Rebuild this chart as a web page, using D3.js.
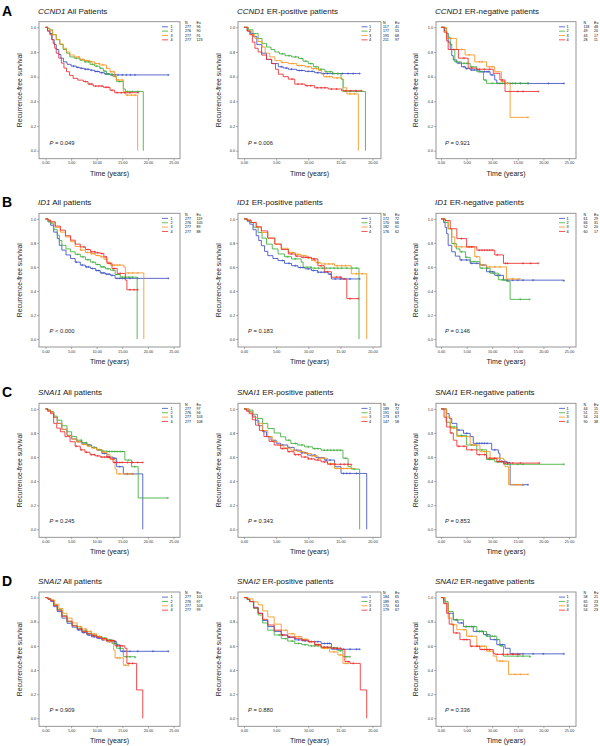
<!DOCTYPE html>
<html>
<head>
<meta charset="utf-8">
<script src="https://cdn.jsdelivr.net/npm/d3@7"></script>
<style>
  body { margin: 0; background: #fff; }
  svg { font-family: "Liberation Sans", Arial, sans-serif; }
</style>
</head>
<body>
<div class="d3Chart"></div>
<script>
// curves are KM steps: [time, survival from that time on]; order blue, green, orange, red
const ccnd1All = [
  [[0,1],[0.4,0.97],[0.85,0.95],[1.3,0.9],[1.7,0.86],[2.1,0.82],[2.6,0.78],[3,0.75],[3.5,0.72],[4.2,0.7],[5,0.685],[6,0.675],[6.7,0.668],[7.6,0.66],[8.7,0.652],[9.6,0.642],[10.6,0.632],[11.5,0.622],[12.6,0.614],[24,0.614]],
  [[0,1],[0.5,0.99],[0.85,0.98],[1.4,0.94],[2.1,0.9],[2.8,0.86],[3.45,0.82],[4.1,0.79],[4.75,0.76],[5.6,0.75],[6.7,0.735],[7.6,0.72],[8.7,0.7],[9.6,0.685],[10.6,0.668],[11.3,0.645],[11.9,0.62],[13.2,0.6],[13.9,0.56],[15.2,0.5],[15.6,0.48],[19.1,0]],
  [[0,1],[0.5,0.99],[0.85,0.973],[1.4,0.94],[2.1,0.9],[2.8,0.865],[3.45,0.83],[4.1,0.8],[4.75,0.776],[5.6,0.76],[6.7,0.74],[7.6,0.73],[8.7,0.72],[9.6,0.706],[10.6,0.695],[11.9,0.668],[12.6,0.64],[13.5,0.6],[13.8,0.573],[15.2,0.478],[15.7,0.45],[18,0]],
  [[0,1],[0.4,0.97],[0.85,0.94],[1.2,0.9],[1.5,0.87],[1.8,0.83],[2.1,0.79],[2.6,0.75],[3.1,0.71],[3.6,0.67],[4.1,0.64],[4.7,0.61],[5.4,0.586],[6.3,0.572],[7.4,0.56],[8.3,0.54],[9.3,0.524],[11.3,0.514],[12.6,0.49],[13.5,0.47],[18.1,0.47]]
]
const ccnd1AllCens = [
  [5.5,6.3,7,7.8,8.3,9,9.8,10.2,11,11.8,12.2,13,13.6,14.2,15,15.8,16.6,17.5,24],
  [6,7,7.8,8.4,9.2,10,10.8,11.6,12.4,13,14.5,16,17,18],
  [6.5,7.3,8,9,9.8,10.5,11.2,12,12.8,13.3,14.2,15,16,16.8,17.5],
  [7.8,8.6,9,9.8,10.4,11,11.8,12.2,13,14,14.8,15.5,16.5,18.1]
]
const ccnd1Pos = [
  [[0,1],[0.5,0.97],[1,0.95],[1.45,0.925],[2,0.86],[2.75,0.79],[3.5,0.74],[4.3,0.706],[5.35,0.68],[6.1,0.67],[6.9,0.66],[8.2,0.65],[9.5,0.643],[11,0.632],[12,0.625],[18,0.625]],
  [[0,1],[0.7,0.98],[1.4,0.95],[2.2,0.91],[2.8,0.87],[3.5,0.84],[4.2,0.82],[4.8,0.8],[5.5,0.785],[6.4,0.77],[7.4,0.76],[8.5,0.747],[9.2,0.725],[10,0.706],[10.8,0.68],[11.6,0.66],[12.6,0.64],[13.8,0.625],[15.1,0.58],[15.4,0.48],[18.9,0]],
  [[0,1],[0.6,0.97],[1.2,0.94],[1.7,0.91],[2.2,0.885],[2.8,0.84],[3.3,0.79],[4,0.76],[4.8,0.73],[5.8,0.715],[6.9,0.706],[8.2,0.69],[9.5,0.68],[10.5,0.665],[11.6,0.65],[12.1,0.62],[12.4,0.6],[13.8,0.59],[15.2,0.58],[15.5,0.51],[16,0.46],[17.8,0]],
  [[0,1],[0.5,0.97],[0.9,0.94],[1.3,0.88],[1.7,0.83],[2.2,0.8],[2.75,0.775],[3.5,0.74],[4.3,0.706],[4.9,0.66],[5.35,0.62],[6.1,0.6],[6.9,0.58],[7.9,0.54],[9.5,0.527],[11,0.51],[13.1,0.5],[15.2,0.486],[18.3,0.486]]
]
const ccnd1PosCens = [
  [5.8,6.6,7.4,8.6,9,10,10.6,11.5,12.4,13,13.8,14.6,15.3,16.2,17,18],
  [6,7,8,9,9.6,10.4,11.2,12,12.8,13.4,14,14.6,16.5,17.5],
  [6,7.5,8.6,9,10,10.8,11.3,12.8,13.3,14.5,16.5,17.2],
  [7.5,8.4,9,9.8,10.4,11.4,12,12.6,13.6,14.4,15.8,16.6,17.4,18.3]
]
const ccnd1Neg = [
  [[0,1],[0.7,0.97],[1.1,0.95],[1.4,0.88],[1.8,0.82],[2.1,0.77],[2.4,0.735],[3.1,0.71],[4,0.68],[4.8,0.665],[5.7,0.654],[7.6,0.64],[9.6,0.614],[10.5,0.573],[10.9,0.545],[24,0.545]],
  [[0,1],[0.8,0.99],[1.1,0.95],[1.4,0.92],[1.8,0.86],[2.1,0.82],[2.7,0.72],[4,0.708],[5.7,0.68],[7,0.64],[8.3,0.573],[8.9,0.546],[17,0.546]],
  [[0,1],[1.1,0.91],[3,0.82],[4.7,0.776],[6.6,0.72],[8.9,0.68],[10.5,0.64],[11.8,0.56],[12.5,0.546],[13.5,0.27],[17,0.27]],
  [[0,1],[0.6,0.96],[1.1,0.89],[1.4,0.82],[3.4,0.75],[5.3,0.67],[7,0.66],[10.2,0.627],[11.5,0.573],[12.5,0.48],[19,0.48]]
]
const ccnd1NegCens = [
  [3.5,4.5,5,6,6.5,7,8,8.5,9,9.3,10,11.5,12.5,13.5,14.5,15.5,17,21,24],
  [2,3,4.5,5,6,7.5,8.6,10,11,12,13,14,15.5,17],
  [2,4,5.5,7.5,8,9.5,10,12,13,17],
  [2.5,4.5,6,7.5,8.5,9.5,12,15,16,19]
]
const id1All = [
  [[0,1],[0.5,0.975],[1,0.947],[1.6,0.89],[2.3,0.836],[2.7,0.78],[3.2,0.74],[4,0.7],[4.9,0.67],[5.8,0.64],[6.8,0.615],[7.8,0.6],[8.8,0.587],[9.8,0.57],[10.7,0.55],[11.7,0.54],[12.7,0.53],[13.6,0.505],[24,0.505]],
  [[0,1],[0.5,0.98],[1,0.96],[1.6,0.91],[2.3,0.864],[2.7,0.82],[3.2,0.78],[4,0.75],[4.9,0.726],[5.8,0.705],[6.8,0.684],[7.8,0.66],[8.8,0.64],[9.8,0.62],[10.7,0.6],[11.7,0.585],[12.7,0.573],[13.6,0.537],[14.6,0.515],[17.9,0]],
  [[0,1],[0.5,0.99],[1,0.975],[1.9,0.93],[2.9,0.89],[3.9,0.85],[4.9,0.81],[5.8,0.77],[6.8,0.74],[7.8,0.72],[8.8,0.71],[9.8,0.695],[10.7,0.684],[11.4,0.665],[12,0.64],[12.7,0.615],[15.3,0.6],[15.6,0.55],[19.2,0]],
  [[0,1],[0.5,0.99],[1,0.975],[1.9,0.94],[2.9,0.906],[3.9,0.86],[4.9,0.823],[5.8,0.79],[6.8,0.767],[7.8,0.745],[8.8,0.726],[9.8,0.718],[10.7,0.712],[11.4,0.684],[12,0.63],[13,0.587],[14,0.546],[15.6,0.49],[15.9,0.41],[18,0.41]]
]
const id1AllCens = [
  [6,7.2,8,8.4,9.2,10,10.4,11,11.4,12,12.4,13,14,14.5,15,15.5,16.5,18,24],
  [6.3,7.3,8.3,9.3,10.2,11,11.4,12.2,13.2,14,15,15.6,16.3,17],
  [7,8.2,9,9.5,10.2,11,11.8,13,13.5,14,14.5,16.2,17,18],
  [7.5,8.3,9,9.6,10.2,11,11.8,12.4,13.4,14.6,16.5,17.3,18]
]
const id1Pos = [
  [[0,1],[0.5,0.98],[0.9,0.956],[1.4,0.91],[1.9,0.86],[2.3,0.82],[2.7,0.777],[3.2,0.73],[3.7,0.694],[4.5,0.67],[5.3,0.653],[6.3,0.63],[7.4,0.61],[8.4,0.595],[9.5,0.584],[10.5,0.57],[11.5,0.556],[13.1,0.54],[13.6,0.5],[18,0.5]],
  [[0,1],[0.5,0.985],[0.9,0.97],[1.5,0.93],[2.2,0.887],[2.8,0.84],[3.5,0.79],[4.4,0.75],[5.3,0.708],[6.3,0.685],[7.4,0.667],[8.9,0.64],[9.2,0.598],[10.5,0.59],[17.9,0]],
  [[0,1],[0.5,0.99],[1.1,0.97],[1.9,0.93],[2.7,0.887],[3.7,0.84],[4.8,0.79],[5.8,0.755],[6.9,0.72],[8,0.705],[8.9,0.694],[9.8,0.675],[10.5,0.653],[11.2,0.635],[12,0.625],[14.1,0.61],[16.7,0.543],[19.1,0]],
  [[0,1],[0.5,0.99],[1.1,0.97],[1.9,0.935],[2.7,0.9],[3.7,0.84],[4.8,0.79],[5.8,0.745],[6.9,0.708],[8,0.69],[8.9,0.68],[10.5,0.667],[11.5,0.61],[12.5,0.56],[13.6,0.515],[15.2,0.5],[16,0.336],[17.8,0.336]]
]
const id1PosCens = [
  [6,7,8,8.8,9.2,10,10.8,11.5,12,12.5,13.4,14.2,15,15.6,16.5,18],
  [6.8,8,9.8,10.4,11,11.6,12.2,12.8,13.4,14,14.6,15.2,16,16.8,17.5],
  [7,7.6,8.4,9.3,10,11,11.6,12.6,13.2,13.8,14.5,15.2,15.8,17.5,18.4],
  [7.4,8.2,9.2,9.6,10,10.8,11,12,13,14.4,15,16.5,17.8]
]
const id1Neg = [
  [[0,1],[0.5,0.97],[0.8,0.93],[1.1,0.877],[1.4,0.78],[2.1,0.726],[2.8,0.69],[3.7,0.658],[5.7,0.63],[7.6,0.616],[8.9,0.56],[10.5,0.53],[12.2,0.49],[24,0.485]],
  [[0,1],[0.8,0.97],[1.4,0.918],[2.1,0.795],[3,0.75],[3.7,0.726],[4.8,0.68],[5.7,0.644],[7.6,0.59],[9.6,0.548],[11.2,0.493],[12.8,0.48],[13.5,0.33],[17.3,0.33]],
  [[0,1],[0.8,0.986],[1.4,0.918],[2.1,0.85],[2.7,0.767],[6.6,0.685],[7.6,0.616],[8.9,0.6],[12.8,0.5],[15.4,0.5]],
  [[0,1],[0.8,0.986],[1.8,0.918],[3.1,0.836],[5,0.767],[7,0.74],[10.5,0.7],[12.2,0.63],[19,0.63]]
]
const id1NegCens = [
  [4,5,6,7,8.2,9.5,10,11,11.5,13,14,15,16,18,24],
  [2.5,4,5,6.5,8,9,10.2,12,15.5,17.3],
  [3,4,5,6,7,8,9.5,10.5,11.5,14,15.4],
  [4,5.5,6,7.5,8,8.5,9,9.5,10,11,12.6,13,16,17.5,19]
]
const snai1All = [
  [[0,1],[0.5,0.99],[1,0.975],[1.6,0.93],[2.3,0.88],[3.2,0.83],[4.2,0.78],[5.1,0.75],[6.1,0.727],[7.1,0.71],[8.1,0.7],[9,0.68],[10,0.66],[11,0.63],[12,0.6],[13.2,0.59],[13.9,0.52],[15.2,0.46],[19,0]],
  [[0,1],[0.5,0.99],[1,0.975],[1.6,0.94],[2.3,0.906],[3.2,0.86],[4.2,0.81],[5.1,0.77],[6.1,0.74],[7.1,0.72],[8.1,0.7],[9,0.68],[10,0.66],[11,0.65],[12,0.646],[15.5,0.575],[16.8,0.52],[18.1,0.26],[23.9,0.26]],
  [[0,1],[0.5,0.99],[1,0.975],[1.6,0.93],[2.3,0.88],[3.2,0.83],[4.2,0.78],[5.1,0.75],[6.1,0.727],[7.1,0.705],[8.1,0.69],[9,0.675],[10,0.66],[11,0.64],[12,0.62],[12.6,0.58],[13.6,0.5],[13.9,0.46],[17,0.46]],
  [[0,1],[0.4,0.98],[1,0.96],[1.6,0.88],[2.2,0.84],[2.9,0.81],[3.8,0.77],[4.8,0.727],[5.8,0.69],[6.8,0.66],[7.7,0.64],[8.7,0.62],[9.7,0.61],[10.7,0.6],[12.6,0.59],[13.2,0.555],[19,0.555]]
]
const snai1AllCens = [
  [7,8.5,9.5,10.5,11.5,12.5,13.5,14.5,16,17],
  [7,8,9.5,10.5,11.2,12,12.5,13,13.5,14,14.6,15,16.2,17.4,23.9],
  [6.5,7.5,8.5,9.5,10.3,11.5,12.3,13,14.5,15.5,16.5,17],
  [6,7,8,9,9.5,10.2,11,11.5,12,12.3,13.5,14,14.5,15,16,17,18,19]
]
const snai1Pos = [
  [[0,1],[0.4,0.99],[0.8,0.975],[1.3,0.94],[1.8,0.906],[2.3,0.86],[2.9,0.81],[3.5,0.77],[4.2,0.74],[5,0.715],[5.7,0.7],[6.8,0.68],[7.8,0.657],[8.9,0.635],[9.9,0.616],[11.2,0.595],[12.5,0.575],[14.1,0.52],[15.1,0.464],[19.1,0]],
  [[0,1],[0.8,0.99],[1.4,0.955],[2.1,0.92],[2.9,0.88],[3.7,0.837],[4.7,0.8],[5.7,0.768],[6.5,0.74],[7.3,0.713],[8.3,0.7],[9.4,0.685],[10.7,0.67],[12,0.657],[15.4,0.59],[16.2,0.52],[16.7,0.5],[18,0]],
  [[0,1],[0.8,0.975],[1.4,0.93],[2.1,0.88],[2.9,0.82],[3.7,0.77],[4.4,0.73],[5.2,0.7],[6.2,0.675],[7.3,0.657],[8.3,0.645],[9.4,0.63],[10.5,0.61],[11.5,0.59],[13,0.547],[14.1,0.505],[17,0.505]],
  [[0,1],[0.4,0.98],[0.8,0.96],[1.3,0.91],[1.8,0.865],[2.4,0.82],[3.1,0.77],[3.9,0.73],[4.7,0.7],[5.7,0.67],[6.8,0.645],[7.8,0.62],[8.9,0.6],[10,0.585],[11,0.575],[12,0.56],[13,0.54],[16.7,0.535]]
]
const snai1PosCens = [
  [6,7,8.2,9,9.5,10.5,11,11.6,12.8,13.4,15.5,16,16.5,17.5],
  [7,8,9,10,11,11.5,12.5,13,13.5,14,14.5,15,15.8,17.2],
  [6.5,7.8,8.8,9.8,10.6,11,12,12.5,13.5,14.5,15,15.5,16,17],
  [6,7,8,8.5,9.5,10,10.5,11.5,12.5,13.5,14.2,15,15.6,16.2,16.7]
]
const snai1Neg = [
  [[0,1],[1.1,0.96],[1.6,0.92],[2.1,0.88],[3.1,0.824],[4.4,0.797],[5.7,0.77],[6.3,0.714],[9.9,0.66],[11.2,0.632],[11.5,0.563],[12.8,0.555],[13.5,0.37],[17,0.37]],
  [[0,1],[1,0.89],[1.8,0.85],[3.1,0.78],[5,0.7],[7,0.66],[8.9,0.58],[10.5,0.56],[12.2,0.54],[24,0.54]],
  [[0,1],[1.1,0.934],[1.8,0.84],[3.1,0.77],[5.7,0.7],[7.6,0.645],[9.6,0.59],[12.2,0.577],[12.5,0.52],[13.2,0.37],[16,0.37]],
  [[0,1],[0.6,0.93],[1.1,0.85],[1.8,0.8],[2.4,0.74],[3.1,0.69],[5,0.66],[7,0.62],[8.9,0.59],[10.9,0.563],[12.2,0.55],[19.2,0.55]]
]
const snai1NegCens = [
  [3.5,5,7,7.5,8,8.5,9,10.5,11.8,12,12.4,13,16,17],
  [2,2.5,4,6,8,9.5,10,11,11.5,13,15,16,24],
  [2.5,4,6.5,8.5,10.5,11,11.5,14.5,15,16],
  [2,3.5,4.5,6,7.5,8.5,9.5,10.5,11.2,11.8,12.5,13,14,15.5,19.2]
]
const snai2All = [
  [[0,1],[0.5,0.985],[1,0.967],[1.6,0.925],[2.3,0.884],[3.2,0.83],[4.2,0.787],[5.2,0.755],[6.2,0.732],[7.1,0.71],[8.1,0.69],[9,0.675],[10,0.663],[11,0.65],[12,0.635],[13.9,0.608],[14.6,0.555],[24,0.555]],
  [[0,1],[0.5,0.99],[1,0.98],[1.6,0.94],[2.3,0.9],[3.2,0.85],[4.2,0.8],[5.2,0.77],[6.2,0.746],[7.1,0.725],[8.1,0.705],[9,0.69],[10,0.677],[11,0.665],[12,0.65],[13,0.62],[13.9,0.58],[15.2,0.51],[17.5,0.505]],
  [[0,1],[0.5,0.99],[1,0.98],[1.8,0.945],[2.6,0.91],[3.4,0.87],[4.2,0.83],[5.2,0.79],[6.2,0.76],[7.1,0.74],[8.1,0.72],[9,0.7],[10,0.677],[11,0.655],[12,0.635],[13.3,0.565],[13.6,0.5],[15.2,0.44],[16.2,0.44]],
  [[0,1],[0.5,0.99],[1,0.975],[1.6,0.935],[2.3,0.895],[3.2,0.845],[4.2,0.805],[5.2,0.765],[6.2,0.74],[7.1,0.72],[8.1,0.7],[9,0.685],[10,0.672],[11,0.66],[12,0.645],[13.6,0.6],[15.5,0.58],[15.9,0.455],[17.8,0.235],[19,0]]
]
const snai2AllCens = [
  [6.5,7.5,8.5,9.5,10.5,11.2,12.5,13,13.5,14,15,15.5,16.5,18,21,24],
  [7,8,9.5,10.5,11.5,12.5,13.5,14.5,15.8,16.5,17.5],
  [6.8,7.8,8.8,9.5,10.5,11.5,12.5,14,14.5,15.6,16.2],
  [7,8.2,9.2,10.2,11,12,12.8,13.2,14,14.5,15,16.3,17]
]
const snai2Pos = [
  [[0,1],[0.5,0.985],[0.9,0.967],[1.5,0.92],[2.2,0.87],[2.9,0.81],[3.7,0.76],[4.7,0.72],[5.8,0.69],[6.8,0.67],[7.9,0.65],[9,0.642],[10,0.635],[12,0.62],[13.6,0.572],[18,0.572]],
  [[0,1],[0.5,0.985],[0.9,0.967],[1.5,0.91],[2.2,0.856],[2.9,0.79],[3.7,0.73],[4.7,0.69],[5.8,0.66],[6.8,0.64],[7.9,0.62],[9,0.61],[10,0.6],[12,0.586],[14.6,0.56],[15.4,0.51],[16.5,0.51]],
  [[0,1],[0.6,0.99],[1.4,0.965],[2.2,0.94],[2.9,0.89],[3.7,0.84],[4.7,0.78],[5.8,0.73],[6.8,0.7],[7.9,0.677],[9,0.655],[10,0.635],[11,0.61],[12,0.58],[13.3,0.55],[14.6,0.525],[15.4,0.455],[16.2,0.455]],
  [[0,1],[0.5,0.985],[0.9,0.967],[1.5,0.915],[2.2,0.87],[2.9,0.82],[3.7,0.773],[4.7,0.73],[5.8,0.69],[6.8,0.675],[7.9,0.663],[9,0.648],[10,0.635],[11,0.61],[12,0.59],[13.5,0.58],[15.2,0.57],[15.7,0.47],[16.5,0.455],[18.1,0.235],[19.1,0]]
]
const snai2PosCens = [
  [6,7,8.5,9.5,10.5,11,11.5,12.5,13,13.3,14.5,15.5,16.5,17.5,18],
  [5.5,6.5,7.5,8.5,9.5,10.5,11,11.5,12.5,13,13.5,14,15,16,16.5],
  [6.5,7.5,8.5,9.5,10.5,11.5,12.5,13,14,15,15.8,16.2],
  [6,7,8,9.2,10.2,11.2,11.6,12.5,13,14,14.5,15,16.2,17]
]
const snai2Neg = [
  [[0,1],[0.5,0.98],[0.8,0.953],[1.4,0.87],[2.4,0.816],[3.3,0.79],[4.4,0.76],[6.3,0.72],[8.3,0.693],[9.6,0.652],[10.9,0.61],[12.5,0.58],[13.5,0.534],[24,0.534]],
  [[0,1],[0.8,0.967],[1.4,0.885],[2.4,0.816],[4.4,0.76],[7,0.72],[8.9,0.68],[10.9,0.652],[11.5,0.6],[12.2,0.515],[17.4,0.51]],
  [[0,1],[0.8,0.953],[1.4,0.83],[2.1,0.775],[3.1,0.734],[5,0.68],[7,0.597],[8.9,0.556],[10.2,0.515],[10.9,0.474],[13.2,0.364],[17,0.364]],
  [[0,1],[0.5,0.95],[1.1,0.87],[1.6,0.78],[2.4,0.707],[3.7,0.652],[5.7,0.597],[7.6,0.57],[10.2,0.54],[10.5,0.53],[15.4,0.53]]
]
const snai2NegCens = [
  [3,4,5,6,7,7.5,8,8.8,9,10.5,11.5,12,14,15,16,18,20,24],
  [3,4.8,5.5,6.5,7.5,8,9,10,10.5,11,11.8,15,16,17.4],
  [2.5,4.5,5.5,6,7.5,8,8.5,9.5,11.5,12,14.5,15.5,17],
  [3,4.5,5,6,7,8,8.5,9,9.5,11,12,13,14,15.4]
]

// legend tables: N and events per group
const nTable = [
  [[277,276,277,277],[117,177,195,211],[118,49,44,28]],
  [[277,276,277,277],[172,170,182,176],[61,66,52,60]],
  [[277,276,277,277],[189,191,173,147],[44,51,54,90]],
  [[277,276,277,277],[184,189,170,179],[58,65,64,54]]
]
const evTable = [
  [[96,90,91,123],[41,55,68,97],[48,20,17,11]],
  [[119,105,89,88],[72,66,61,62],[29,31,20,17]],
  [[97,94,103,108],[72,63,67,58],[15,21,24,38]],
  [[101,97,103,99],[65,65,64,67],[21,23,29,23]]
]
const pTexts = [
  ['= 0.049','= 0.006','= 0.921'],
  ['< 0.000','= 0.183','= 0.146'],
  ['= 0.245','= 0.343','= 0.853'],
  ['= 0.909','= 0.880','= 0.336']
]
const genes = ['CCND1', 'ID1', 'SNAI1', 'SNAI2']
const letters = ['A', 'B', 'C', 'D']
const groups = [
  ['All Patients', 'ER-positive patients', 'ER-negative patients'],
  ['All patients', 'ER-positive patients', 'ER-negative patients'],
  ['All patients', 'ER-positive patients', 'ER-negative patients'],
  ['All patients', 'ER-positive patients', 'ER-negative patients']
]
const curves = [
  [ccnd1All, ccnd1Pos, ccnd1Neg],
  [id1All, id1Pos, id1Neg],
  [snai1All, snai1Pos, snai1Neg],
  [snai2All, snai2Pos, snai2Neg]
]
const censors = [
  [ccnd1AllCens, ccnd1PosCens, ccnd1NegCens],
  [id1AllCens, id1PosCens, id1NegCens],
  [snai1AllCens, snai1PosCens, snai1NegCens],
  [snai2AllCens, snai2PosCens, snai2NegCens]
]
const colors = ['#3d4fc2', '#3cae3a', '#f7941e', '#ec2a2c']

// layout
const rowTop = [10.7, 202.3, 392.3, 581]
const rowY0 = [150.7, 339, 529.3, 718.3]
const cols = [
  { boxL: 39, boxR: 180, x0: 45.5, x1: 173.5, xMax: 25, yTitle: 19.5, dash: 162, lab: 170.5, n: 185, ev: 196.5 },
  { boxL: 238, boxR: 381, x0: 244, x1: 372.5, xMax: 20, yTitle: 218, dash: 361.5, lab: 369, n: 383, ev: 395 },
  { boxL: 436, boxR: 576, x0: 441, x1: 569, xMax: 25, yTitle: 415, dash: 559, lab: 566.5, n: 583.5, ev: 594 }
]

const svg = d3.select('.d3Chart')
  .append('svg')
  .attr('width', 600)
  .attr('height', 746)

svg.append('rect').attr('width', 600).attr('height', 746).attr('fill', '#fff')

function survivalAt (knots, t) {
  let s = 1
  knots.forEach(k => { if (k[0] <= t) s = k[1] })
  return s
}

function drawPanel (r, c) {
  const col = cols[c]
  const top = rowTop[r]
  const y0 = rowY0[r]
  const boxT = top + 11
  const boxB = y0 + 8
  const x = d3.scaleLinear().domain([0, col.xMax]).range([col.x0, col.x1])
  const y = d3.scaleLinear().domain([0, 1]).range([y0, top + 16.6])
  const g = svg.append('g')

  // 标题
  if (c === 0) {
    g.append('text')
      .attr('x', 2).attr('y', top + 5)
      .attr('font-size', 14).attr('font-weight', 'bold')
      .text(letters[r])
  }
  const title = g.append('text')
    .attr('x', col.boxL - 1).attr('y', top + 3)
    .attr('font-size', 8).attr('fill', '#222')
  title.append('tspan').attr('font-style', 'italic').text(genes[r])
  title.append('tspan').text(' ' + groups[r][c])

  // 边框
  g.append('rect')
    .attr('x', col.boxL).attr('y', boxT)
    .attr('width', col.boxR - col.boxL).attr('height', boxB - boxT)
    .attr('fill', 'none').attr('stroke', '#8a8a8a').attr('stroke-width', 0.9)

  const yAxis = g.append('g')
    .attr('transform', `translate(${col.boxL},0)`)
    .call(d3.axisLeft(y).tickValues([0, 0.2, 0.4, 0.6, 0.8, 1]).tickFormat(d3.format('.1f')).tickSize(2).tickPadding(1))
  const xAxis = g.append('g')
    .attr('transform', `translate(0,${boxB})`)
    .call(d3.axisBottom(x).tickValues(d3.range(0, col.xMax + 1, 5)).tickFormat(d3.format('.2f')).tickSize(2).tickPadding(1))
  ;[yAxis, xAxis].forEach(a => {
    a.select('.domain').remove()
    a.selectAll('line').attr('stroke', '#666').attr('stroke-width', 0.5)
    a.selectAll('text').attr('font-size', 3.8).attr('fill', '#333').attr('font-family', null)
  })

  g.append('text')
    .attr('transform', `translate(${col.yTitle},${(boxT + boxB) / 2}) rotate(-90)`)
    .attr('text-anchor', 'middle').attr('dominant-baseline', 'central')
    .attr('font-size', 6.8).attr('fill', '#222')
    .text('Recurrence-free survival')
  g.append('text')
    .attr('x', (col.boxL + col.boxR) / 2).attr('y', y0 + 25)
    .attr('text-anchor', 'middle')
    .attr('font-size', 7).attr('fill', '#222')
    .text('Time (years)')

  // 生存曲线
  const line = d3.line()
    .curve(d3.curveStepAfter)
    .x(d => x(d[0]))
    .y(d => y(d[1]))
  curves[r][c].forEach((knots, i) => {
    g.append('path')
      .datum(knots)
      .attr('d', line)
      .attr('fill', 'none')
      .attr('stroke', colors[i])
      .attr('stroke-width', 0.85)
    g.append('path')
      .attr('d', censors[r][c][i].map(t => {
        const px = x(t), py = y(survivalAt(knots, t))
        return `M${px - 1.1},${py}h2.2M${px},${py - 1.1}v2.2`
      }).join(''))
      .attr('stroke', colors[i])
      .attr('stroke-width', 0.55)
  })

  // 图例
  g.append('text').attr('x', col.n).attr('y', top + 13.4).attr('font-size', 3.6).text('N')
  g.append('text').attr('x', col.ev).attr('y', top + 13.4).attr('font-size', 3.6).text('Ev.')
  colors.forEach((clr, i) => {
    const ly = top + 17.4 + i * 4.35
    g.append('line')
      .attr('x1', col.dash).attr('x2', col.dash + 6)
      .attr('y1', ly - 1.3).attr('y2', ly - 1.3)
      .attr('stroke', clr).attr('stroke-width', 0.8)
    g.append('text').attr('x', col.lab).attr('y', ly).attr('font-size', 3.8).text(i + 1)
    g.append('text').attr('x', col.n).attr('y', ly).attr('font-size', 3.6).text(nTable[r][c][i])
    g.append('text').attr('x', col.ev).attr('y', ly).attr('font-size', 3.6).text(evTable[r][c][i])
  })

  const pv = g.append('text')
    .attr('x', col.x0 + 4).attr('y', y0 - 6)
    .attr('font-size', 5.8).attr('fill', '#222')
  pv.append('tspan').attr('font-style', 'italic').text('P')
  pv.append('tspan').text(' ' + pTexts[r][c])
}

for (let r = 0; r < 4; r++) {
  for (let c = 0; c < 3; c++) drawPanel(r, c)
}
</script>
</body>
</html>
